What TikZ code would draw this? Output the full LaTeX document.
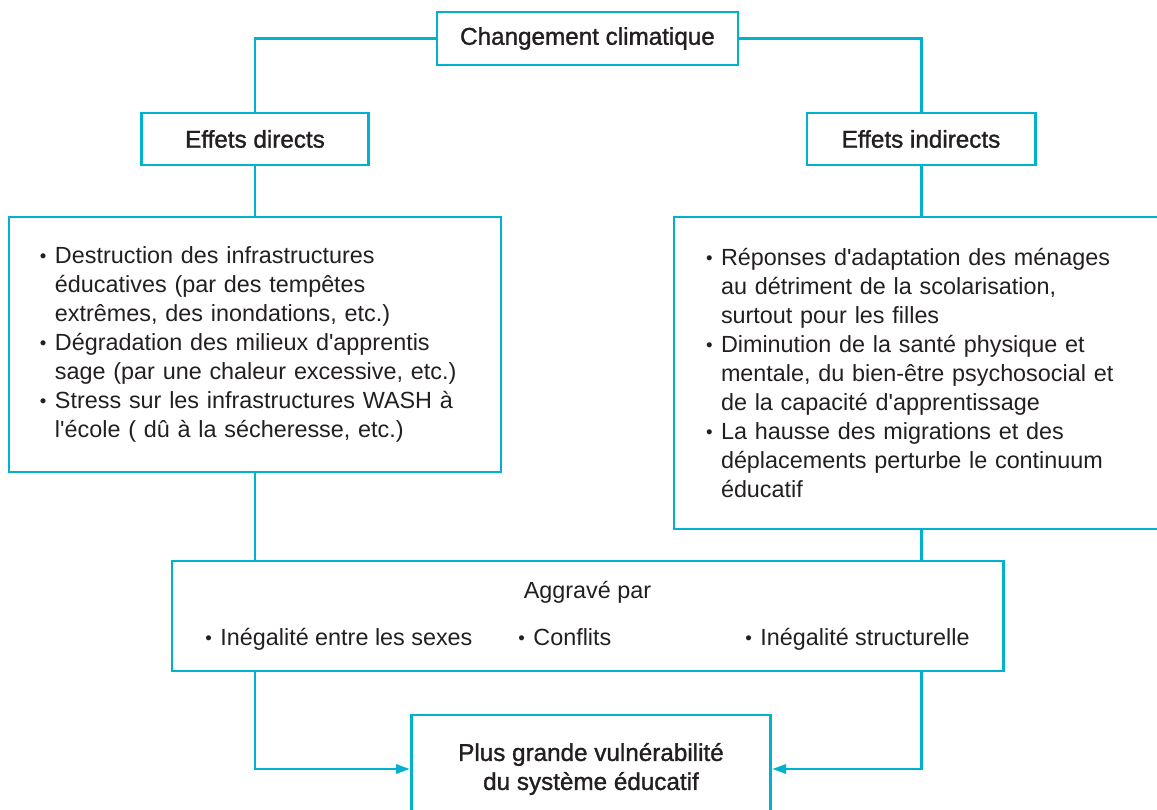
\documentclass[tikz,border=0pt]{standalone}
\usepackage{fontspec}
\setmainfont{Liberation Sans}
\newfontfamily\medfont[FakeBold=1.3]{Liberation Sans}
\usetikzlibrary{arrows.meta}
\definecolor{cyanline}{RGB}{0,178,205}
\definecolor{txt}{RGB}{35,31,32}
\newcommand{\bul}{\makebox[0.3cm][l]{\raisebox{0.1ex}{\scalebox{0.8}{•}}}}
\newcommand{\ind}{\hspace*{0.3cm}}
\newcommand{\ap}{\textquotesingle}
\tikzstyle{box} = [draw=cyanline, line width=1.7pt, inner sep=0pt, text=txt, font=\fontsize{13.3}{16.5}\selectfont]
\tikzstyle{head} = [box, font=\medfont\fontsize{13.8}{16.5}\selectfont]
\tikzstyle{lst} = [box, text width=8.6cm, align=left]
\tikzstyle{ln} = [draw=cyanline, line width=1.7pt, >={Triangle[length=0.28cm,width=0.18cm]}]

\begin{document}
\begin{tikzpicture}
\useasboundingbox (0,0) rectangle (23.14,-16.2);
\node[head, minimum width=6.02cm, minimum height=1.06cm] (clim) at (11.75,-0.77) {Changement climatique};
\node[head, minimum width=4.54cm, minimum height=1.04cm] (direct) at (5.10,-2.78) {Effets directs};
\node[head, minimum width=4.56cm, minimum height=1.04cm] (indirect) at (18.42,-2.78) {Effets indirects};
\node[lst, minimum width=9.84cm, minimum height=5.10cm] (lbox) at (5.10,-6.89) {%
\bul Destruction des infrastructures\\
\ind éducatives (par des tempêtes\\
\ind extrêmes, des inondations, etc.)\\
\bul Dégradation des milieux d\ap apprentis\\
\ind sage (par une chaleur excessive, etc.)\\
\bul Stress sur les infrastructures WASH à\\
\ind l\ap école ( dû à la sécheresse, etc.)};
\node[lst, minimum width=9.88cm, minimum height=6.24cm] (rbox) at (18.42,-7.46) {%
\bul Réponses d\ap adaptation des ménages\\
\ind au détriment de la scolarisation,\\
\ind surtout pour les filles\\
\bul Diminution de la santé physique et\\
\ind mentale, du bien-être psychosocial et\\
\ind de la capacité d\ap apprentissage\\
\bul La hausse des migrations et des\\
\ind déplacements perturbe le continuum\\
\ind éducatif};
\node[box, align=center, minimum width=16.62cm, minimum height=2.2cm] (aggr) at (11.75,-12.32) {%
Aggravé par\\[10.2pt]
\makebox[6.26cm][l]{\bul Inégalité entre les sexes}\makebox[4.54cm][l]{\bul Conflits}\bul Inégalité structurelle};
\node[head, align=center, minimum width=7.18cm, minimum height=2.16cm] (vuln) at (11.82,-15.38) {Plus grande vulnérabilité\\du système éducatif};
\draw[ln] (clim.west) -| (direct.north);
\draw[ln] (clim.east) -| (indirect.north);
\draw[ln] (direct.south) -- (lbox.north);
\draw[ln] (indirect.south) -- (rbox.north);
\draw[ln] (lbox.south) -- (lbox.south |- aggr.north);
\draw[ln] (rbox.south) -- (rbox.south |- aggr.north);
\draw[ln, ->] (lbox.south |- aggr.south) |- (vuln.west);
\draw[ln, ->] (rbox.south |- aggr.south) |- (vuln.east);
\end{tikzpicture}
\end{document}
